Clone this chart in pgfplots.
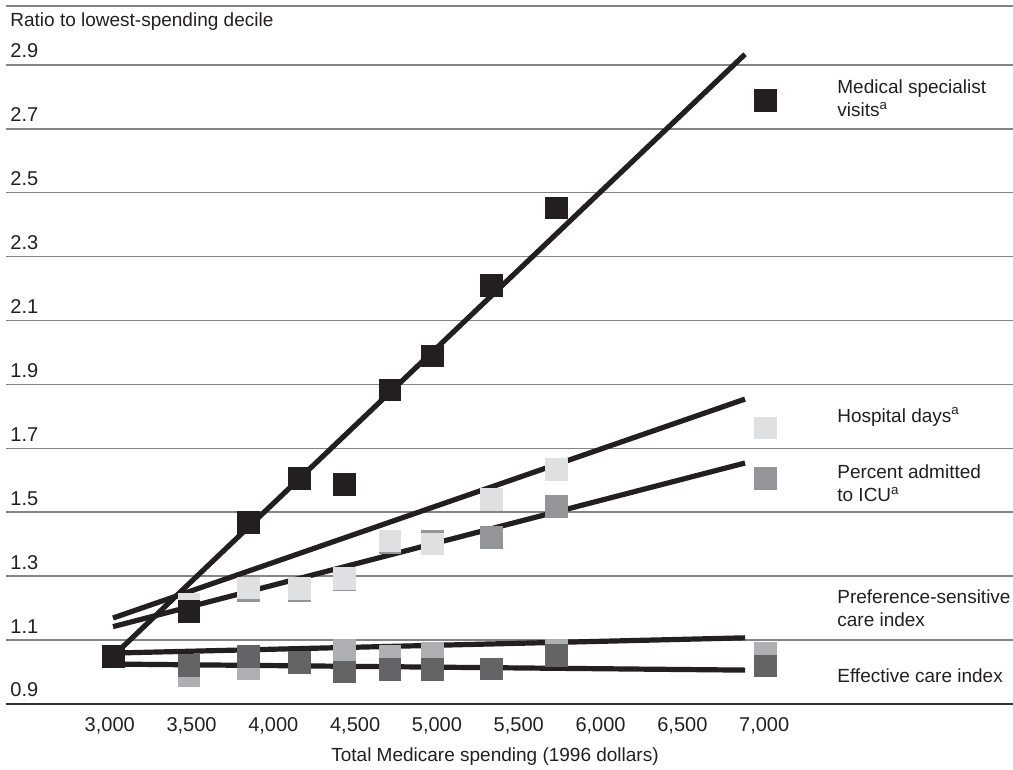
\documentclass[border=0pt]{standalone}
\usepackage{pgfplots}
\pgfplotsset{compat=1.18}
\usepackage{fontspec}
\setmainfont{Liberation Sans}

\definecolor{ink}{HTML}{231F20}
\definecolor{hosp}{HTML}{DFE0E2}
\definecolor{icu}{HTML}{939598}
\definecolor{pref}{HTML}{AEAFB2}
\definecolor{eff}{HTML}{646466}
\definecolor{rule}{HTML}{858585}

\begin{document}
\fontsize{9.5}{11.75}\selectfont
\begin{tikzpicture}
\useasboundingbox (0,0) rectangle (506.5pt,385pt);
\begin{axis}[
  at={(3pt,382pt)}, anchor=north west,
  width=503.5pt, height=349pt, scale only axis,
  xmin=2366, xmax=8521, ymin=0.85, ymax=3.034,
  clip=false,
  axis line style={draw=none},
  major tick length=0pt,
  xtick={3000,3500,...,7000},
  scaled x ticks=false,
  ytick={0.85,1.05,1.25,1.45,1.65,1.85,2.05,2.25,2.45,2.65,2.85},
  yticklabels={0.9,1.1,1.3,1.5,1.7,1.9,2.1,2.3,2.5,2.7,2.9},
  ymajorgrids, grid style={rule, line width=0.8pt},
  /pgf/number format/assume math mode=true,
  /pgf/number format/1000 sep={,},
  tick label style={font=\fontsize{10}{12}\selectfont},
  xticklabel style={anchor=base, yshift=-13.75pt, text=ink},
  yticklabel style={anchor=base west, inner sep=0pt, xshift=2pt, yshift=3.5pt, text=ink},
  sq/.style={only marks, mark=square*, mark size=5.4pt,
    mark options={fill=#1, draw=#1, line width=0.2pt}},
]
% top and bottom rules
\draw[rule, line width=0.8pt] (rel axis cs:0,1) -- (rel axis cs:1,1);
\draw[black!80, line width=0.8pt] (rel axis cs:0,0) -- (rel axis cs:1,0);

% Preference-sensitive care index
\addplot[sq=pref] coordinates {
  (3020,1.0)(3483,0.94)(3845,0.961)(4157,0.98)(4432,1.019)(4711,1.0)(4970,1.01)(5330,0.96)(5730,1.02)(7005,1.009)
};
% Effective care index
\addplot[sq=eff] coordinates {
  (3020,1.0)(3483,0.972)(3845,1.0)(4157,0.981)(4432,0.951)(4711,0.959)(4970,0.959)(5330,0.961)(5730,1.003)(7005,0.97)
};
% Percent admitted to ICU
\addplot[sq=icu] coordinates {
  (3020,1.0)(3483,1.14)(3845,1.205)(4157,1.205)(4432,1.24)(4711,1.355)(4970,1.36)(5330,1.371)(5730,1.469)(7005,1.557)
};
% Hospital days
\addplot[sq=hosp] coordinates {
  (3020,1.0)(3483,1.163)(3845,1.214)(4157,1.213)(4432,1.244)(4711,1.361)(4970,1.352)(5330,1.491)(5730,1.585)(7005,1.714)
};

% fitted lines
\addplot[ink, line width=2.6pt, no marks] coordinates {(3000,0.99)(6883,2.883)};
\addplot[ink, line width=2.6pt, no marks] coordinates {(3020,1.119)(6883,1.804)};
\addplot[ink, line width=2.6pt, no marks] coordinates {(3020,1.092)(6883,1.604)};
\addplot[ink, line width=2.6pt, no marks] coordinates {(3000,1.009)(6883,1.057)};
\addplot[ink, line width=2.6pt, no marks] coordinates {(3000,0.975)(6883,0.956)};

% Medical specialist visits
\addplot[sq=ink] coordinates {
  (3020,1.00)(3483,1.141)(3845,1.419)(4157,1.557)(4432,1.538)(4711,1.833)(4970,1.94)(5330,2.161)(5730,2.403)(7005,2.74)
};

% labels
\node[anchor=west, inner sep=0pt, text=ink, xshift=2pt] at (axis cs:2366,2.984) {Ratio to lowest-spending decile};
\node[inner sep=0pt, text=ink, yshift=-26.5pt] at (axis cs:5355,0.85) {Total Medicare spending (1996 dollars)};
\node[anchor=west, align=left, inner sep=0pt, text=ink] at (axis cs:7445,2.745) {Medical specialist\\visits\textsuperscript{a}};
\node[anchor=west, align=left, inner sep=0pt, text=ink] at (axis cs:7445,1.748) {Hospital days\textsuperscript{a}};
\node[anchor=west, align=left, inner sep=0pt, text=ink] at (axis cs:7445,1.541) {Percent admitted\\to ICU\textsuperscript{a}};
\node[anchor=west, align=left, inner sep=0pt, text=ink] at (axis cs:7445,1.15) {Preference-sensitive\\care index};
\node[anchor=west, align=left, inner sep=0pt, text=ink] at (axis cs:7445,0.94) {Effective care index};
\end{axis}
\end{tikzpicture}
\end{document}
